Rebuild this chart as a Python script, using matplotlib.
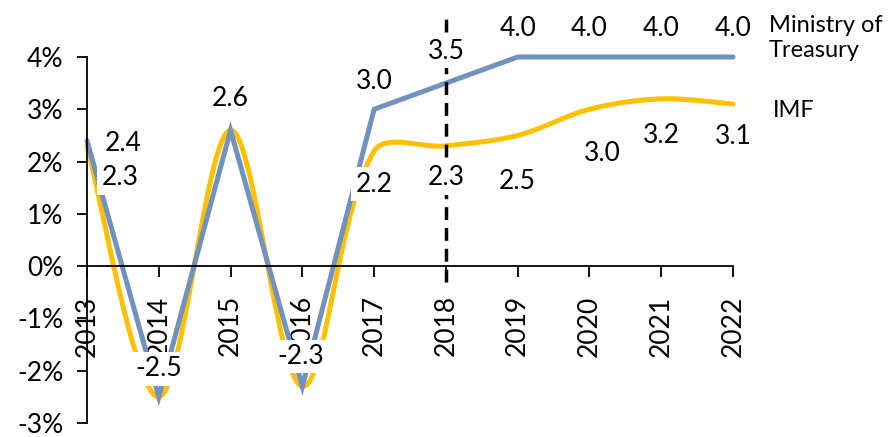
import numpy as np
import matplotlib
matplotlib.use("Agg")
import matplotlib.pyplot as plt

## Chart data
years = [2013, 2014, 2015, 2016, 2017, 2018, 2019, 2020, 2021, 2022]
ministry = [2.4, -2.5, 2.6, -2.3, 3.0, 3.5, 4.0, 4.0, 4.0, 4.0]
imf = [2.3, -2.5, 2.6, -2.3, 2.2, 2.3, 2.5, 3.0, 3.2, 3.1]
forecast_year = 2018

## label offsets in pixels (dx, dy), None = no label
ministry_offsets = [(36, -3), (0, 28), (0, 32), (-2, 30), (0, 28), (0, 32),
                    (0, 29), (0, 29), (0, 29), (0, 29)]
imf_offsets = [(33, -32), None, None, None, (0, -33), (0, -32),
               (0, -46), (13, -44), (0, -37), (0, -32)]

blue = "#7191BE"
gold = "#FFC000"

plt.rcParams['font.family'] = ['Lato', 'DejaVu Sans']

W, H, DPI = 890, 437, 100
fig = plt.figure(figsize=(W / DPI, H / DPI), dpi=DPI)
left, right = 87 / W, 733 / W
top, bottom = (H - 57) / H, (H - 423) / H
ax = fig.add_axes([left, bottom, right - left, top - bottom])
ax.set_xlim(years[0], years[-1])
ax.set_ylim(-3, 4)

# pixels per unit, used for the excel-like smoothing
px_x = (right - left) * W / (years[-1] - years[0])
px_y = (top - bottom) * H / 7.0


def smooth(xs, ys, s=0.5, n=40):
    # bezier smoothing in pixel space, tangents weighted by segment length
    P = np.column_stack([np.array(xs, float) * px_x, np.array(ys, float) * px_y])
    L = np.hypot(*np.diff(P, axis=0).T)
    out = [P[0]]
    t = np.linspace(0, 1, n)[1:, None]
    for i in range(len(P) - 1):
        p0 = P[i - 1] if i > 0 else P[i]
        p3 = P[i + 2] if i + 2 < len(P) else P[i + 1]
        l0 = L[i - 1] if i > 0 else L[i]
        l2 = L[i + 1] if i + 1 < len(L) else L[i]
        c1 = P[i] + (P[i + 1] - p0) * s * L[i] / (l0 + L[i]) * 2 / 3
        c2 = P[i + 1] - (p3 - P[i]) * s * L[i] / (L[i] + l2) * 2 / 3
        seg = ((1 - t) ** 3 * P[i] + 3 * (1 - t) ** 2 * t * c1
               + 3 * (1 - t) * t ** 2 * c2 + t ** 3 * P[i + 1])
        out.extend(seg)
    out = np.array(out)
    return out[:, 0] / px_x, out[:, 1] / px_y


sx, sy = smooth(years, imf)
ax.plot(sx, sy, color=gold, lw=3.6, solid_capstyle='round', clip_on=False, zorder=2)
ax.plot(years, ministry, color=blue, lw=3.6, solid_capstyle='round',
        solid_joinstyle='miter', clip_on=False, zorder=2.1)

ax.plot([forecast_year, forecast_year], [-0.3, 4.8], color='black', lw=2.5,
        linestyle=(0, (3.7, 2.3)), clip_on=False, zorder=2.2)

fs = 19
box = dict(facecolor='white', edgecolor='none', pad=3)
for x, v, off in zip(years, ministry, ministry_offsets):
    if off is None:
        continue
    ax.annotate(f"{v:.1f}", (x, v), xytext=off, textcoords='offset pixels',
                ha='center', va='center', fontsize=fs, bbox=box, zorder=3)
for x, v, off in zip(years, imf, imf_offsets):
    if off is None:
        continue
    ax.annotate(f"{v:.1f}", (x, v), xytext=off, textcoords='offset pixels',
                ha='center', va='center', fontsize=fs, bbox=box, zorder=3)

ax.annotate("Ministry of\nTreasury", (years[-1], ministry[-1]), xytext=(36, 19),
            textcoords='offset pixels', ha='left', va='center', fontsize=17,
            linespacing=1.2)
ax.annotate("IMF", (years[-1], imf[-1]), xytext=(40, -6),
            textcoords='offset pixels', ha='left', va='center', fontsize=17)

## axes styling
ax.spines['top'].set_visible(False)
ax.spines['right'].set_visible(False)
ax.spines['bottom'].set_position(('data', 0))
for sp in ax.spines.values():
    sp.set_linewidth(1.3)
ax.set_yticks(range(-3, 5))
ax.set_yticklabels([f"{v}%" for v in range(-3, 5)])
ax.set_xticks(years)
ax.set_xticklabels([str(y) for y in years], rotation=90)
ax.tick_params(axis='y', direction='out', length=7, width=1.3, labelsize=fs, pad=10)
ax.tick_params(axis='x', direction='out', length=8, width=1.3, labelsize=fs, pad=13)

fig.savefig("out.png", dpi=DPI)
